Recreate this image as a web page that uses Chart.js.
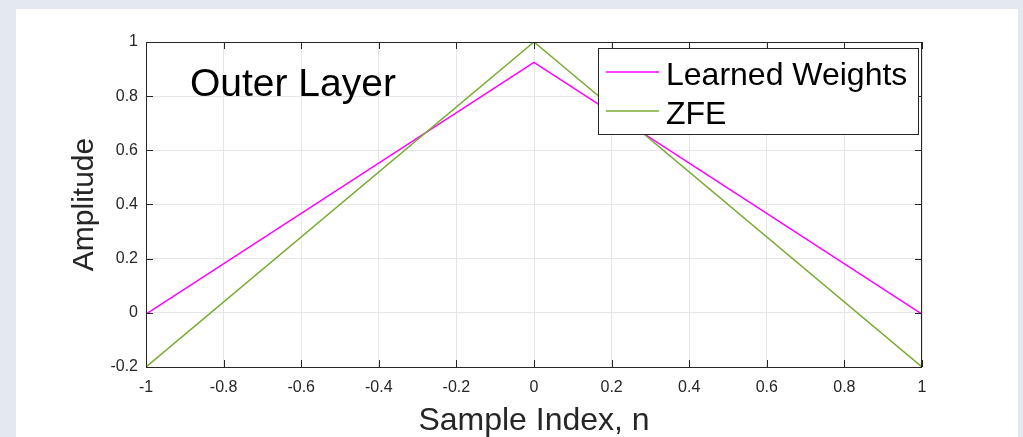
<!DOCTYPE html>
<html>
<head>
<meta charset="utf-8">
<script src="https://cdn.jsdelivr.net/npm/chart.js@4/dist/chart.umd.min.js"></script>
<style>
  html, body { margin: 0; padding: 0; }
  body { width: 1023px; height: 437px; background: #e4e9f1; position: relative; overflow: hidden; }
  #panel { position: absolute; left: 16px; top: 9px; width: 1002px; height: 428px; background: #fff; }
  #chart { position: absolute; left: 0; top: 0; }
</style>
</head>
<body>
<div id="panel"></div>
<canvas id="chart" width="1023" height="437"></canvas>
<script>
// sample positions and the two curves
var sampleIndex = [-1, 0, 1];
var learnedWeights = [-0.005, 0.925, -0.005];
var zfe = [-0.2, 1, -0.2];

var xTicks = [-1, -0.8, -0.6, -0.4, -0.2, 0, 0.2, 0.4, 0.6, 0.8, 1];
var yTicks = [-0.2, 0, 0.2, 0.4, 0.6, 0.8, 1];

var seriesNames = ['Learned Weights', 'ZFE'];
var seriesColors = ['#ff00ff', '#77ac30'];
var panelTitle = 'Outer Layer';

function toPoints(xs, ys) {
  return xs.map(function (x, i) { return { x: x, y: ys[i] }; });
}

var fontFam = '"Liberation Sans", Arial, Helvetica, sans-serif';
var axisCol = '#262626';

// box, inward ticks, legend and panel label (MATLAB look)
var matlabFrame = {
  id: 'matlabFrame',
  afterDraw: function (chart) {
    var ctx = chart.ctx;
    var a = chart.chartArea;
    var xs = chart.scales.x, ys = chart.scales.y;
    var tl = 7;
    ctx.save();
    ctx.strokeStyle = axisCol;
    ctx.lineWidth = 1;
    ctx.beginPath();
    xTicks.forEach(function (v) {
      var px = Math.round(xs.getPixelForValue(v)) + 0.5;
      ctx.moveTo(px, a.bottom); ctx.lineTo(px, a.bottom - tl);
      ctx.moveTo(px, a.top); ctx.lineTo(px, a.top + tl);
    });
    yTicks.forEach(function (v) {
      var py = Math.round(ys.getPixelForValue(v)) + 0.5;
      ctx.moveTo(a.left, py); ctx.lineTo(a.left + tl, py);
      ctx.moveTo(a.right, py); ctx.lineTo(a.right - tl, py);
    });
    ctx.stroke();
    ctx.strokeRect(Math.round(a.left) + 0.5, Math.round(a.top) + 0.5,
      Math.round(a.right - a.left) - 1, Math.round(a.bottom - a.top));

    // panel label
    ctx.fillStyle = '#000';
    ctx.font = '39px ' + fontFam;
    ctx.textBaseline = 'alphabetic';
    ctx.textAlign = 'left';
    ctx.fillText(panelTitle, a.left + 44, a.top + 54);

    // legend
    var lx = a.right - 324, ly = a.top + 6, lw = 320, lh = 86;
    ctx.fillStyle = '#fff';
    ctx.fillRect(lx, ly, lw, lh);
    ctx.strokeStyle = axisCol;
    ctx.strokeRect(lx + 0.5, ly + 0.5, lw, lh);
    ctx.font = '32px ' + fontFam;
    seriesNames.forEach(function (name, i) {
      var yy = ly + 24 + i * 39;
      ctx.strokeStyle = seriesColors[i];
      ctx.lineWidth = 1.5;
      ctx.beginPath();
      ctx.moveTo(lx + 8, yy); ctx.lineTo(lx + 61, yy);
      ctx.stroke();
      ctx.fillStyle = '#000';
      ctx.fillText(name, lx + 68, yy + 13);
    });
    ctx.restore();
  }
};

function plainLabel(v) { return String(v); }

new Chart(document.getElementById('chart').getContext('2d'), {
  type: 'line',
  data: {
    datasets: [{
      label: seriesNames[0],
      data: toPoints(sampleIndex, learnedWeights),
      borderColor: seriesColors[0],
      borderWidth: 1.5,
      pointRadius: 0,
      fill: false,
      order: 1
    }, {
      label: seriesNames[1],
      data: toPoints(sampleIndex, zfe),
      borderColor: seriesColors[1],
      borderWidth: 1.5,
      pointRadius: 0,
      fill: false,
      order: 0
    }]
  },
  options: {
    responsive: false,
    animation: false,
    layout: { padding: { top: 42, right: 101, left: 0, bottom: 0 } },
    plugins: { legend: { display: false }, tooltip: { enabled: false } },
    scales: {
      x: {
        type: 'linear',
        min: -1, max: 1,
        afterBuildTicks: function (s) { s.ticks = xTicks.map(function (v) { return { value: v }; }); },
        afterFit: function (s) { s.height = 70; },
        grid: { color: '#e6e6e6', drawTicks: false },
        border: { display: false },
        ticks: { color: axisCol, font: { family: fontFam, size: 16 }, padding: 11, maxRotation: 0, callback: plainLabel },
        title: { display: true, text: 'Sample Index, n', color: '#262626',
          font: { family: fontFam, size: 32, lineHeight: 1 }, padding: 0 }
      },
      y: {
        min: -0.2, max: 1,
        afterBuildTicks: function (s) { s.ticks = yTicks.map(function (v) { return { value: v }; }); },
        afterFit: function (s) { s.width = 146; },
        grid: { color: '#e6e6e6', drawTicks: false },
        border: { display: false },
        ticks: { color: axisCol, font: { family: fontFam, size: 16 }, padding: 8, callback: plainLabel },
        title: { display: true, text: 'Amplitude', color: '#262626',
          font: { family: fontFam, size: 30, lineHeight: 1 }, padding: { top: 70, bottom: 0 } }
      }
    }
  },
  plugins: [matlabFrame]
});
</script>
</body>
</html>
